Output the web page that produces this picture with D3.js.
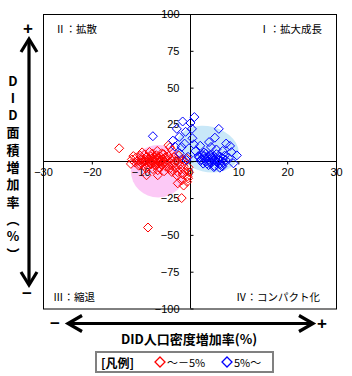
<!DOCTYPE html>
<html>
<head>
<meta charset="utf-8">
<script src="https://cdn.jsdelivr.net/npm/d3@7"></script>
<style>
  html, body { margin: 0; padding: 0; background: #fff; }
  svg { display: block; }
</style>
</head>
<body>
<div id="chart"></div>
<script>
var xTicks = [-30, -20, -10, 0, 10, 20, 30];
var yTicks = [100, 75, 50, 25, 0, -25, -50, -75, -100];
var quadrantLabels = ['Ⅱ：拡散', 'Ⅰ：拡大成長', 'Ⅲ：縮退', 'Ⅳ：コンパクト化'];
var yTitleChars = ['D', 'I', 'D', '面', '積', '増', '加', '率', '︵', '%', '︶'];
var xTitle = 'DID人口密度増加率(%)';
var legendTitle = '[凡例]';
var seriesNames = ['～－5%', '5%～'];
var seriesColors = ['#ff0000', '#0000ff'];

// ellipses: [cx, cy, rx, ry, angle] in data units
var ellipses = [
    [-6.4, -6.8, 5.6, 17.8, 0],
    [3.7, 8.2, 6.5, 15.5, 14]
];
var ellipseColors = ['#fcc9f6', '#c9e8f8'];

var redPoints = [
    [-11.8, 1.2], [-11.2, -0.8], [-10.9, 2.6], [-10.6, 0.3], [-10.3, -1.9], [-10.1, 3.8], [-9.8, 1.5],
    [-9.6, -0.4], [-9.4, -2.8], [-9.2, 4.6], [-9.0, 0.8], [-8.8, 2.9], [-8.7, -1.2], [-8.5, -3.6],
    [-8.3, 1.9], [-8.1, 0.1], [-7.9, 3.4], [-7.8, -2.1], [-7.6, 5.2], [-7.4, 1.0], [-7.2, -0.9],
    [-7.1, 2.4], [-6.9, -3.2], [-6.8, 4.1], [-6.6, 0.5], [-6.4, -1.6], [-6.3, 2.0], [-6.1, -4.4],
    [-6.0, 3.3], [-5.8, 0.2], [-5.6, -2.5], [-5.5, 1.4], [-5.3, 4.8], [-5.1, -0.7], [-5.0, 2.6],
    [-4.8, -3.8], [-4.6, 0.9], [-4.5, -1.8], [-4.3, 3.5], [-4.1, -5.2], [-3.9, 1.7], [-3.7, -2.9],
    [-3.6, 0.4], [-3.4, -6.1], [-3.2, 2.8], [-3.0, -1.3], [-2.8, -4.6], [-2.6, 0.8], [-2.4, -7.4],
    [-2.2, 3.9], [-2.0, -2.2], [-1.8, -5.5], [-1.6, 1.3], [-1.4, -8.8], [-1.2, -3.4], [-1.0, 0.2],
    [-0.8, -6.6], [-0.6, 2.2], [-0.4, -10.2], [-0.2, -4.1],
    [-10.4, -3.0], [-9.9, -1.0], [-9.1, -0.2], [-8.6, 0.6], [-8.0, -1.4], [-7.7, 2.0], [-7.3, 0.3],
    [-7.0, -2.6], [-6.7, 1.6], [-6.2, -0.3], [-5.9, 1.1], [-5.4, -1.2], [-8.9, -4.8], [-7.5, -5.3],
    [-6.5, -6.1], [-5.2, -6.8], [-9.7, 6.0], [-8.2, 6.3], [-6.6, 7.0], [-11.5, 3.5], [-12.0, -1.8],
    [-14.4, 8.8], [-8.5, -45], [-1.6, -25], [-2.4, -15], [-0.3, -11.6], [-1.6, -13], [-2.6, -9.5],
    [-3.6, -7.3], [-6.5, -9.5], [-8.8, -9.5], [-4.3, 10.9], [-3.6, 7.5], [-4.0, 9.5], [-5.7, 5.4],
    [-1.2, -16.5], [-0.1, -7.5], [-0.5, -14]
];

var bluePoints = [
    [-7.5, 17], [1, 30], [-1.4, 27], [6, 22], [0.5, 22], [-2.1, 16.5], [0.6, 15.6], [5.2, 16],
    [-3.4, 14], [0.9, 11.5], [-1.6, 9.7], [8.3, 10.4], [6.8, 7], [9.7, 4], [9, -1.4], [4.4, 9.7],
    [-2, 5.4], [-0.8, 20], [0.2, 26], [-2.6, 22], [4, 13], [7.5, 12], [3, 6], [8, 2.5], [6.5, -2],
    [-1, 12], [-0.3, 3], [1.2, 7], [2.2, 10.5], [5.5, 8], [7.2, 3.8], [8.6, 6.2], [-0.6, 0.8],
    [-3, 10], [1.8, 3.5],
    [2.0, 2.6], [2.3, 0.3], [2.6, 4.2], [2.8, -1.6], [3.1, 2.0], [3.3, 5.2], [3.5, -0.2], [3.7, 3.2],
    [3.9, -2.6], [4.1, 1.0], [4.3, 4.4], [4.5, -1.0], [4.7, 2.7], [4.9, 0.4], [5.1, -3.2], [5.3, 2.2],
    [5.5, 4.8], [5.7, -0.8], [5.9, 1.5], [6.1, -2.0], [6.3, 3.2], [6.5, 0.2], [6.7, -3.6], [6.9, 1.8],
    [7.1, -1.2], [7.4, 0.9], [3.6, -1.6], [4.2, -0.6], [4.8, 1.8], [5.4, 0.0], [6.0, 0.7], [2.4, 1.2],
    [3.0, 3.6], [5.0, -4.0], [6.2, -4.4], [4.4, 3.6]
];

var width = 352, height = 376;
var plot = { left: 43, right: 336, top: 14, bottom: 308.5 };
var fontLatin = 'Arial, "Liberation Sans", sans-serif';
var fontJp = '"Noto Sans CJK JP", sans-serif';

var svg = d3.select('#chart').append('svg')
    .attr('width', width)
    .attr('height', height);

var x = d3.scaleLinear().domain([-30, 30]).range([plot.left, plot.right]);
var y = d3.scaleLinear().domain([-100, 100]).range([plot.bottom, plot.top]);

// background ellipses
svg.selectAll('.blob')
    .data(ellipses)
    .enter()
    .append('ellipse')
    .attr('class', 'blob')
    .attr('cx', function(d) { return x(d[0]); })
    .attr('cy', function(d) { return y(d[1]); })
    .attr('rx', function(d) { return x(d[2]) - x(0); })
    .attr('ry', function(d) { return y(0) - y(d[3]); })
    .attr('transform', function(d) { return 'rotate(' + d[4] + ',' + x(d[0]) + ',' + y(d[1]) + ')'; })
    .attr('fill', function(d, i) { return ellipseColors[i]; });

// plot border
svg.append('rect')
    .attr('x', plot.left + 0.5)
    .attr('y', plot.top + 0.5)
    .attr('width', plot.right - plot.left)
    .attr('height', plot.bottom - plot.top)
    .attr('fill', 'none')
    .attr('stroke', '#000')
    .attr('stroke-width', 1);

// axes through origin
var xAxis = d3.axisBottom(x).tickValues(xTicks).tickSize(3).tickPadding(4);
var yAxis = d3.axisRight(y).tickValues(yTicks).tickSize(3);

var gx = svg.append('g')
    .attr('transform', 'translate(0,' + (Math.round(y(0)) + 0.5) + ')')
    .call(xAxis);
gx.select('.domain').attr('d', 'M' + plot.left + ',0H' + plot.right);
gx.selectAll('text').attr('font-size', 11).attr('font-family', fontLatin).attr('fill', '#000');

var gy = svg.append('g')
    .attr('transform', 'translate(' + (Math.round(x(0)) + 0.5) + ',0)')
    .call(yAxis);
gy.select('.domain').attr('d', 'M0,' + plot.top + 'V' + plot.bottom);
gy.selectAll('text')
    .attr('x', -11)
    .attr('text-anchor', 'end')
    .attr('font-size', 11)
    .attr('font-family', fontLatin)
    .attr('fill', '#000');

// diamonds
var diamond = 'M0,-4.5L4.5,0L0,4.5L-4.5,0Z';
[redPoints, bluePoints].forEach(function(pts, i) {
    svg.append('g').selectAll('path')
        .data(pts)
        .enter()
        .append('path')
        .attr('d', diamond)
        .attr('transform', function(d) { return 'translate(' + x(d[0]) + ',' + y(d[1]) + ')'; })
        .attr('fill', 'none')
        .attr('stroke', seriesColors[i])
        .attr('stroke-width', 1);
});

// quadrant labels
var qPos = [
    { x: plot.left + 12, y: 28, anchor: 'start' },
    { x: plot.right - 14, y: 28, anchor: 'end' },
    { x: plot.left + 10, y: 296, anchor: 'start' },
    { x: plot.right - 16, y: 296, anchor: 'end' }
];
svg.selectAll('.qlabel')
    .data(quadrantLabels)
    .enter()
    .append('text')
    .attr('class', 'qlabel')
    .attr('x', function(d, i) { return qPos[i].x; })
    .attr('y', function(d, i) { return qPos[i].y; })
    .attr('text-anchor', function(d, i) { return qPos[i].anchor; })
    .attr('dominant-baseline', 'central')
    .attr('font-size', 10.5)
    .attr('font-family', fontJp)
    .text(function(d) { return d; });

// double arrows
function chevron(tipX, tipY, dx, dy, len, half) {
    // dx,dy: unit direction pointing toward tip
    var bx = tipX - dx * len, by = tipY - dy * len;
    var px = -dy * half, py = dx * half;
    return 'M' + (bx + px) + ',' + (by + py) + 'L' + tipX + ',' + tipY + 'L' + (bx - px) + ',' + (by - py);
}
var arrow = svg.append('g')
    .attr('stroke', '#000')
    .attr('stroke-width', 3.2)
    .attr('fill', 'none')
    .attr('stroke-linejoin', 'miter');

// vertical
arrow.append('line').attr('x1', 29).attr('x2', 29).attr('y1', 39).attr('y2', 285);
arrow.append('path').attr('d', chevron(29, 39, 0, -1, 13, 8));
arrow.append('path').attr('d', chevron(29, 285, 0, 1, 13, 8));
// horizontal
arrow.append('line').attr('x1', 68).attr('x2', 313).attr('y1', 323.5).attr('y2', 323.5);
arrow.append('path').attr('d', chevron(68, 323.5, -1, 0, 14, 8));
arrow.append('path').attr('d', chevron(313, 323.5, 1, 0, 14, 8));

// plus / minus signs
var signs = [
    { t: '+', x: 28, y: 28 },
    { t: '−', x: 27, y: 293 },
    { t: '−', x: 55, y: 323 },
    { t: '+', x: 322, y: 323 }
];
svg.selectAll('.sign')
    .data(signs)
    .enter()
    .append('text')
    .attr('class', 'sign')
    .attr('x', function(d) { return d.x; })
    .attr('y', function(d) { return d.y; })
    .attr('text-anchor', 'middle')
    .attr('dominant-baseline', 'central')
    .attr('font-size', 17)
    .attr('font-weight', 'bold')
    .attr('font-family', fontLatin)
    .text(function(d) { return d.t; });

// vertical title
svg.selectAll('.ytitle')
    .data(yTitleChars)
    .enter()
    .append('text')
    .attr('class', 'ytitle')
    .attr('x', 13)
    .attr('y', function(d, i) { return 80 + i * 17.3; })
    .attr('text-anchor', 'middle')
    .attr('dominant-baseline', 'central')
    .attr('font-size', 13)
    .attr('font-weight', 'bold')
    .attr('font-family', fontJp)
    .text(function(d) { return d; });

// horizontal title
svg.append('text')
    .attr('x', 189)
    .attr('y', 338)
    .attr('text-anchor', 'middle')
    .attr('dominant-baseline', 'central')
    .attr('font-size', 13)
    .attr('font-weight', 'bold')
    .attr('font-family', fontJp)
    .text(xTitle);

// legend
var legend = svg.append('g');
legend.append('rect')
    .attr('x', 96)
    .attr('y', 352)
    .attr('width', 177)
    .attr('height', 20)
    .attr('fill', '#fff')
    .attr('stroke', '#808080')
    .attr('stroke-width', 2);
legend.append('text')
    .attr('x', 101)
    .attr('y', 362)
    .attr('dominant-baseline', 'central')
    .attr('font-size', 12)
    .attr('font-weight', 'bold')
    .attr('font-family', fontJp)
    .text(legendTitle);
var legX = [160, 227];
seriesNames.forEach(function(name, i) {
    legend.append('path')
        .attr('d', 'M0,-5L5,0L0,5L-5,0Z')
        .attr('transform', 'translate(' + legX[i] + ',362)')
        .attr('fill', 'none')
        .attr('stroke', seriesColors[i])
        .attr('stroke-width', 1.3);
    legend.append('text')
        .attr('x', legX[i] + 7)
        .attr('y', 362)
        .attr('dominant-baseline', 'central')
        .attr('font-size', 11)
        .attr('font-family', fontJp)
        .text(name);
});
</script>
</body>
</html>
